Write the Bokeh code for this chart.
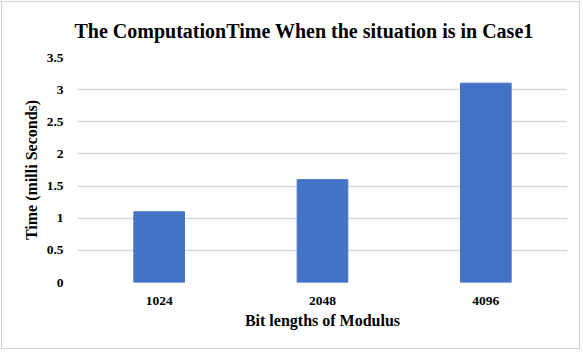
from bokeh.plotting import figure
from bokeh.models import ColumnDataSource, Range1d, FixedTicker
from bokeh.embed import file_html
from bokeh.resources import INLINE

categories = ["1024", "2048", "4096"]
times = [1.1, 1.6, 3.1]
y_ticks = [0, 0.5, 1, 1.5, 2, 2.5, 3, 3.5]
y_tick_labels = ["0", "0.5", "1", "1.5", "2", "2.5", "3", "3.5"]

source = ColumnDataSource(dict(cat=categories, t=times))

p = figure(x_range=categories, y_range=Range1d(0, 3.5), width=579, height=348,
           output_backend="svg", toolbar_location=None,
           min_border_left=75, min_border_right=14, min_border_top=54, min_border_bottom=68)
p.styles = {"border": "1px solid #d0d0d0", "margin": "1px"}

p.vbar(x="cat", top="t", width=0.31, source=source, color="#4472C4")

p.title.text = "The ComputationTime When the situation is in Case1"
p.title.align = "left"
p.title.text_font = "Liberation Serif"
p.title.text_font_size = "20px"
p.title.text_font_style = "bold"
p.title.text_color = "#000000"
p.title.offset = -3
p.title.standoff = 31
p.title.text_line_height = 0.9

p.outline_line_color = None
p.xgrid.grid_line_color = None
p.ygrid.grid_line_color = "#d9d9d9"
p.ygrid.grid_line_width = 1.5

p.yaxis.ticker = FixedTicker(ticks=y_ticks)
p.yaxis.major_label_overrides = {t: l for t, l in zip(y_ticks, y_tick_labels)}

for ax in (p.xaxis, p.yaxis):
    ax.axis_line_color = None
    ax.major_tick_line_color = None
    ax.minor_tick_line_color = None
    ax.major_label_text_font = "Liberation Serif"
    ax.major_label_text_font_size = "13.5px"
    ax.major_label_text_font_style = "bold"
    ax.major_label_text_color = "#000000"
    ax.axis_label_text_font = "Liberation Serif"
    ax.axis_label_text_font_size = "16px"
    ax.axis_label_text_font_style = "bold"
    ax.axis_label_text_color = "#000000"

p.xaxis.axis_label = "Bit lengths of Modulus"
p.yaxis.axis_label = "Time (milli Seconds)"
p.xaxis.major_label_standoff = 8
p.xaxis.axis_label_standoff = 4
p.yaxis.major_label_standoff = 8
p.yaxis.axis_label_standoff = 4

open("out.html", "w").write(file_html(p, INLINE))
